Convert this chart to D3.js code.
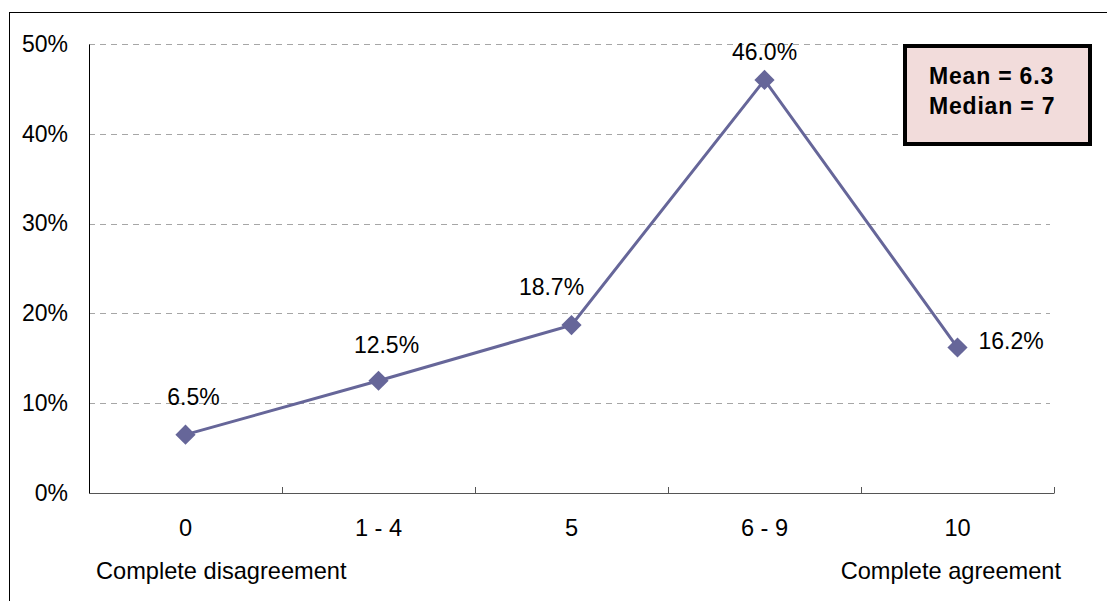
<!DOCTYPE html>
<html>
<head>
<meta charset="utf-8">
<script src="https://cdn.jsdelivr.net/npm/d3@7"></script>
<style>
  html, body { margin: 0; padding: 0; background: #fff; }
  svg { display: block; font-family: "Liberation Sans", Arial, sans-serif; }
</style>
</head>
<body>
<svg id="chart" width="1107" height="601"></svg>
<script>
// Share of responses per agreement score group
const categories = ["0", "1 - 4", "5", "6 - 9", "10"];
const shares = [6.5, 12.5, 18.7, 46.0, 16.2];
const yTicks = [0, 10, 20, 30, 40, 50];
const endLabels = ["Complete disagreement", "Complete agreement"];
const summaryLines = ["Mean = 6.3", "Median = 7"];

// Where each value label's baseline sits relative to its marker (dx, dy, anchor)
const labelPlacement = [
  { dx: 8, dy: -30, anchor: "middle" },
  { dx: 8, dy: -28, anchor: "middle" },
  { dx: -20, dy: -30, anchor: "middle" },
  { dx: 0, dy: -20, anchor: "middle" },
  { dx: 21, dy: 1, anchor: "start" }
];

const FONT = 23.6;
const svg = d3.select("#chart");
const plot = { left: 89, right: 1054, top: 44, bottom: 493 };

// Outer chart frame
svg.append("rect")
  .attr("x", 9.5).attr("y", 12.5)
  .attr("width", 1120).attr("height", 620)
  .attr("fill", "none").attr("stroke", "#000").attr("stroke-width", 1);

const x = d3.scaleBand().domain(categories).range([plot.left, plot.right]);
const y = d3.scaleLinear().domain([0, 50]).range([plot.bottom, plot.top]);

// Dashed horizontal gridlines
svg.append("g")
  .selectAll("line")
  .data(yTicks.filter(d => d > 0))
  .join("line")
  .attr("x1", plot.left).attr("x2", plot.right - 4)
  .attr("y1", d => Math.round(y(d)) + 0.5).attr("y2", d => Math.round(y(d)) + 0.5)
  .attr("stroke", "#a6a6a6").attr("stroke-width", 1)
  .attr("stroke-dasharray", "6,5");

// Y axis labels
const yAxis = d3.axisLeft(y).tickValues(yTicks).tickFormat(d => d + "%").tickSize(0).tickPadding(21);
const gy = svg.append("g").attr("transform", `translate(${plot.left},0)`).call(yAxis);
gy.select(".domain").attr("stroke", "#000").attr("stroke-width", 1);
gy.selectAll("text").attr("font-size", 23).attr("fill", "#000")
  .attr("font-family", "'Liberation Sans', Arial, sans-serif");

// X axis line with category boundary ticks pointing up
svg.append("line")
  .attr("x1", plot.left).attr("x2", plot.right + 0.5)
  .attr("y1", plot.bottom + 0.5).attr("y2", plot.bottom + 0.5)
  .attr("stroke", "#555").attr("stroke-width", 1);
const boundaries = categories.map(c => x(c) + x.bandwidth());
svg.append("g").selectAll("line").data(boundaries).join("line")
  .attr("x1", d => Math.round(d) + 0.5).attr("x2", d => Math.round(d) + 0.5)
  .attr("y1", plot.bottom).attr("y2", plot.bottom - 6)
  .attr("stroke", "#555").attr("stroke-width", 1);

// Category labels
svg.append("g").selectAll("text").data(categories).join("text")
  .attr("x", d => x(d) + x.bandwidth() / 2)
  .attr("y", 536)
  .attr("text-anchor", "middle")
  .attr("font-size", FONT)
  .text(d => d);

// Scale end descriptions
svg.append("text").attr("x", 96).attr("y", 579).attr("font-size", FONT).text(endLabels[0]);
svg.append("text").attr("x", 1061).attr("y", 579).attr("text-anchor", "end").attr("font-size", FONT).text(endLabels[1]);

const cx = i => x(categories[i]) + x.bandwidth() / 2;

// Series line
const line = d3.line().x((d, i) => cx(i)).y(d => y(d));
svg.append("path")
  .datum(shares)
  .attr("d", line)
  .attr("fill", "none")
  .attr("stroke", "#666699")
  .attr("stroke-width", 3);

// Diamond markers
const diamond = d3.symbol().type(d3.symbolDiamond2).size(260);
svg.append("g").selectAll("path").data(shares).join("path")
  .attr("d", diamond)
  .attr("transform", (d, i) => `translate(${cx(i)},${y(d)})`)
  .attr("fill", "#666699");

// Value labels
svg.append("g").selectAll("text").data(shares).join("text")
  .attr("x", (d, i) => cx(i) + labelPlacement[i].dx)
  .attr("y", (d, i) => y(d) + labelPlacement[i].dy)
  .attr("text-anchor", (d, i) => labelPlacement[i].anchor)
  .attr("font-size", 23)
  .text(d => d.toFixed(1) + "%");

// Summary statistics box
svg.append("rect")
  .attr("x", 905).attr("y", 46)
  .attr("width", 185).attr("height", 98)
  .attr("fill", "#f2dcdb").attr("stroke", "#000").attr("stroke-width", 4);
svg.append("g").selectAll("text").data(summaryLines).join("text")
  .attr("x", 929)
  .attr("y", (d, i) => 84 + i * 30)
  .attr("font-size", 23)
  .attr("font-weight", "bold")
  .attr("letter-spacing", 0.8)
  .text(d => d);
</script>
</body>
</html>
